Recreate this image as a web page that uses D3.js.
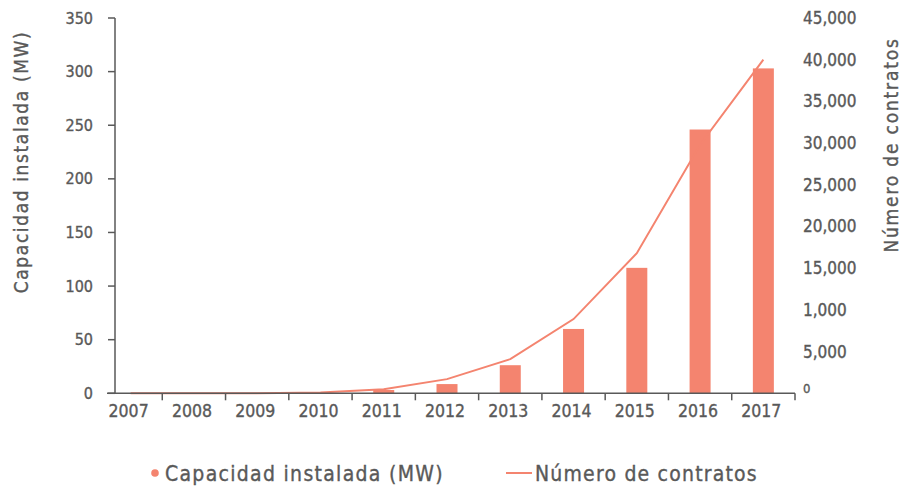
<!DOCTYPE html>
<html>
<head>
<meta charset="utf-8">
<script src="https://cdn.jsdelivr.net/npm/d3@7"></script>
<style>
  body { margin: 0; background: #fff; }
  text { font-family: "DejaVu Sans Condensed", "Liberation Sans Narrow", sans-serif; fill: #595959; stroke: #595959; stroke-width: 0.35px; }
</style>
</head>
<body>
<div id="chart"></div>
<script>
// data
var years = ["2007", "2008", "2009", "2010", "2011", "2012", "2013", "2014", "2015", "2016", "2017"];
var capacidad = [0.1, 0.2, 0.3, 1.2, 3.1, 8.6, 26.2, 60, 117, 246, 303];
var contratos = [0, 0, 10, 100, 500, 1700, 4100, 8900, 16800, 29800, 40000];
var leftTicks = [0, 50, 100, 150, 200, 250, 300, 350];
var rightTicks = [0, 5000, 10000, 15000, 20000, 25000, 30000, 35000, 40000, 45000];
var rightTickLabels = ["0", "5,000", "1,000", "15,000", "20,000", "25,000", "30,000", "35,000", "40,000", "45,000"];

const W = 904, H = 488;
const color = "#f4846f", grey = "#595959";
const plotTop = 18, plotBottom = 393.3;

var svg = d3.select("#chart").append("svg")
    .attr("width", W)
    .attr("height", H);

// scales
var x = d3.scaleBand().domain(years).range([99, 795]).padding(0);
var yL = d3.scaleLinear().domain([0, 350]).range([plotBottom, plotTop]);
var yR = d3.scaleLinear().domain([0, 45000]).range([plotBottom, plotTop]);

// bars
svg.selectAll("rect.bar")
    .data(years)
    .enter()
    .append("rect")
    .attr("class", "bar")
    .attr("x", (d) => x(d) + x.bandwidth() / 2 - 10.5)
    .attr("width", 21)
    .attr("y", (d, i) => yL(capacidad[i]))
    .attr("height", (d, i) => plotBottom - yL(capacidad[i]))
    .attr("fill", color);

// line
var line = d3.line()
    .x((d, i) => x(years[i]) + x.bandwidth() / 2)
    .y((d) => yR(d));
svg.append("path")
    .datum(contratos)
    .attr("d", line)
    .attr("fill", "none")
    .attr("stroke", color)
    .attr("stroke-width", 2);

// left axis
var gL = svg.append("g").attr("transform", "translate(115,0)");
gL.append("line").attr("x1", 0).attr("x2", 0).attr("y1", plotTop).attr("y2", plotBottom)
    .attr("stroke", grey).attr("stroke-width", 1.5);
gL.selectAll("line.tick").data(leftTicks).enter().append("line")
    .attr("x1", -7).attr("x2", 0)
    .attr("y1", (d) => yL(d)).attr("y2", (d) => yL(d))
    .attr("stroke", grey).attr("stroke-width", 1.5);
gL.selectAll("text").data(leftTicks).enter().append("text")
    .attr("x", -22).attr("y", (d) => yL(d))
    .attr("dy", "0.35em")
    .attr("text-anchor", "end")
    .style("font-size", "16px")
    .text((d) => d);

// bottom axis
svg.append("line").attr("x1", 107).attr("x2", 795).attr("y1", plotBottom).attr("y2", plotBottom)
    .attr("stroke", grey).attr("stroke-width", 1.5);
svg.selectAll("line.xtick").data(years).enter().append("line")
    .attr("x1", (d) => x(d) + x.bandwidth()).attr("x2", (d) => x(d) + x.bandwidth())
    .attr("y1", plotBottom).attr("y2", plotBottom + 7)
    .attr("stroke", grey).attr("stroke-width", 1.5);
svg.selectAll("text.year").data(years).enter().append("text")
    .attr("class", "year")
    .attr("x", (d) => x(d) + x.bandwidth() / 2 - 2)
    .attr("y", 417)
    .attr("text-anchor", "middle")
    .style("font-size", "17.5px")
    .text((d) => d);

// right axis labels
svg.selectAll("text.rtick").data(rightTicks).enter().append("text")
    .attr("class", "rtick")
    .attr("x", 803)
    .attr("y", (d) => d == 0 ? yR(d) - 5 : yR(d))
    .attr("dy", "0.35em")
    .style("font-size", (d) => d == 0 ? "13px" : "17px")
    .text((d, i) => rightTickLabels[i]);

// axis titles
svg.append("text")
    .attr("transform", "translate(28,162) rotate(-90)")
    .attr("text-anchor", "middle")
    .style("font-size", "19px")
    .style("letter-spacing", "1.6px")
    .text("Capacidad instalada (MW)");
svg.append("text")
    .attr("transform", "translate(898,145) rotate(-90)")
    .attr("text-anchor", "middle")
    .style("font-size", "19px")
    .style("letter-spacing", "1.8px")
    .text("Número de contratos");

// legend
svg.append("circle").attr("cx", 155).attr("cy", 473).attr("r", 3.8).attr("fill", color);
svg.append("text").attr("x", 165).attr("y", 481)
    .style("font-size", "21px")
    .style("letter-spacing", "1.3px")
    .text("Capacidad instalada (MW)");
svg.append("line").attr("x1", 506).attr("x2", 532).attr("y1", 473).attr("y2", 473)
    .attr("stroke", color).attr("stroke-width", 2);
svg.append("text").attr("x", 535).attr("y", 481)
    .style("font-size", "21px")
    .style("letter-spacing", "1.2px")
    .text("Número de contratos");
</script>
</body>
</html>
